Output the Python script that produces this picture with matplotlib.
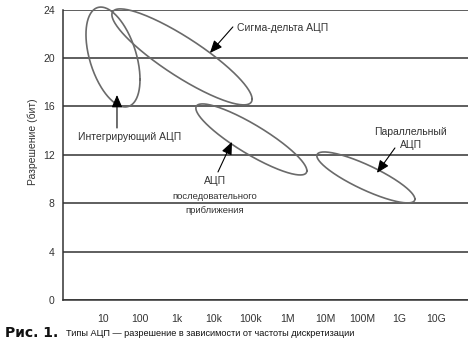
import numpy as np
import matplotlib
matplotlib.use("Agg")
import matplotlib.pyplot as plt

plt.rcParams['font.family'] = ['Liberation Sans', 'DejaVu Sans']

# частота дискретизации в декадах (log10 Гц) и разрешение в битах
freq_ticks = [1, 2, 3, 4, 5, 6, 7, 8, 9, 10]
freq_labels = ["10", "100", "1k", "10k", "100k", "1M", "10M", "100M", "1G", "10G"]
bit_ticks = [0, 4, 8, 12, 16, 20, 24]

adc_types = ["Интегрирующий", "Сигма-дельта", "Последовательного приближения", "Параллельный"]
f_lo = [0.54, 1.24, 3.51, 6.78]
f_hi = [2.00, 5.03, 6.51, 9.43]
b_lo = [15.95, 16.12, 10.33, 8.02]
b_hi = [24.20, 24.05, 16.20, 12.23]
skew = [0.45, 0.88, 0.88, 0.85]

grey = "#333333"
line_col = "#6a6a6a"

fig = plt.figure(figsize=(4.68, 3.49), dpi=100)
ax = fig.add_axes([63/468, 1-300/349, (468-63)/468, (300-9.5)/349])

t = np.linspace(0, 2*np.pi, 300)
for i in range(len(adc_types)):
    cx = (f_lo[i] + f_hi[i]) / 2
    ax_ = (f_hi[i] - f_lo[i]) / 2
    cy = (b_lo[i] + b_hi[i]) / 2
    ay = (b_hi[i] - b_lo[i]) / 2
    phi = np.arccos(skew[i])
    ax.plot(cx + ax_*np.cos(t), cy - ay*np.cos(t + phi), color=line_col, lw=1.2, clip_on=False, zorder=3)

ax.set_xlim(-0.081, 10.865)
ax.set_ylim(0, 24)
ax.set_xticks(freq_ticks)
ax.set_xticklabels(freq_labels)
ax.set_yticks(bit_ticks)
ax.tick_params(axis='x', length=0, pad=10, labelsize=7.5, colors=grey)
ax.tick_params(axis='y', length=0, pad=6, labelsize=7.5, colors=grey)
ax.yaxis.grid(True, color=grey, lw=1.1)
ax.set_axisbelow(True)
for s in ['top', 'right']:
    ax.spines[s].set_visible(False)
for s in ['left', 'bottom']:
    ax.spines[s].set_color(grey)
    ax.spines[s].set_linewidth(1.1)

arrow = dict(arrowstyle='-|>,head_length=0.75,head_width=0.32', color='black', lw=0.8, shrinkA=0, shrinkB=0)
fs = 7.5

ax.annotate('', xy=(3.89, 20.41), xytext=(4.51, 22.56), arrowprops=arrow)
ax.text(4.62, 22.45, "Сигма-дельта АЦП", fontsize=fs, color=grey, ha='left', va='center')

ax.annotate('', xy=(1.378, 16.94), xytext=(1.378, 14.21), arrowprops=arrow)
ax.text(1.73, 13.47, "Интегрирующий АЦП", fontsize=fs, color=grey, ha='center', va='center')

ax.annotate('', xy=(4.486, 13.06), xytext=(4.108, 10.58), arrowprops=arrow)
ax.text(4.03, 9.83, "АЦП", fontsize=fs, color=grey, ha='center', va='center')
ax.text(4.03, 8.51, "последовательного", fontsize=6.8, color=grey, ha='center', va='center')
ax.text(4.03, 7.36, "приближения", fontsize=6.8, color=grey, ha='center', va='center')

ax.annotate('', xy=(8.405, 10.50), xytext=(8.89, 12.56), arrowprops=arrow)
ax.text(9.32, 13.88, "Параллельный", fontsize=fs, color=grey, ha='center', va='center')
ax.text(9.32, 12.81, "АЦП", fontsize=fs, color=grey, ha='center', va='center')

fig.text(33/468, 1-142/349, "Разрешение (бит)", rotation=90, fontsize=7.5, color=grey,
         ha='center', va='center')

# подпись к рисунку
fig.text(5/468, 1-333/349, "Рис. 1.", fontsize=10, fontweight='bold', color='#111111',
         family='DejaVu Sans', ha='left', va='center')
fig.text(66/468, 1-333/349, "Типы АЦП — разрешение в зависимости от частоты дискретизации",
         fontsize=6.6, color='#111111', ha='left', va='center')

fig.savefig("out.png", dpi=100)
